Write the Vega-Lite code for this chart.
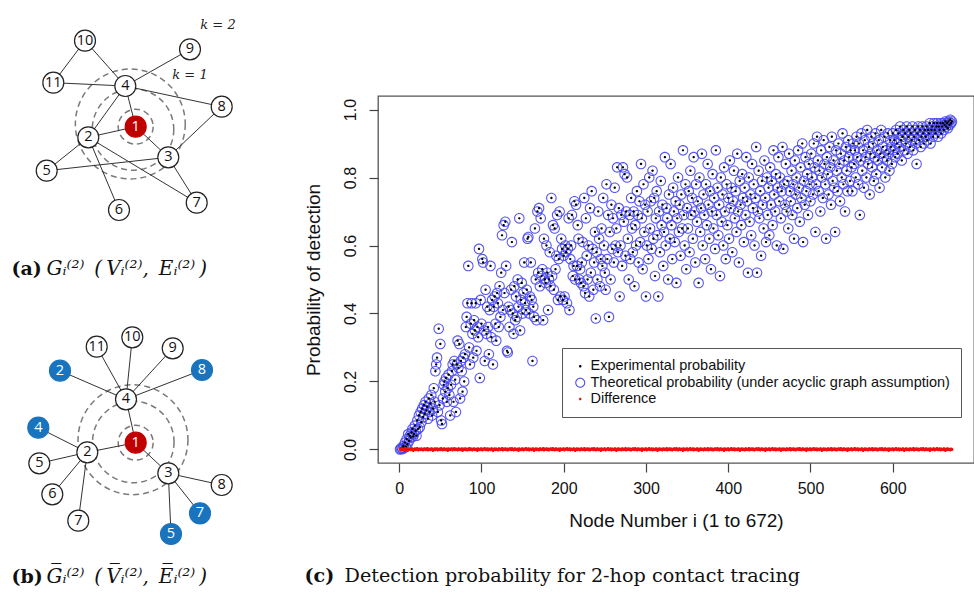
{
"$schema":"https://vega.github.io/schema/vega-lite/v6.json",
"padding":0,
"background":"white",
"config":{"view":{"stroke":null},"font":"Liberation Sans"},
"datasets":{
"nodesA":[{"id":"1","l":"1","t":"s","x":0,"y":0},{"id":"2","l":"2","t":"n","x":-47.4,"y":-10.6},{"id":"3","l":"3","t":"n","x":32.6,"y":-30.6},{"id":"4","l":"4","t":"n","x":-10.4,"y":40.7},{"id":"5","l":"5","t":"n","x":-89,"y":-44},{"id":"6","l":"6","t":"n","x":-16.7,"y":-83.3},{"id":"7","l":"7","t":"n","x":61,"y":-76},{"id":"8","l":"8","t":"n","x":86,"y":20},{"id":"9","l":"9","t":"n","x":54.3,"y":77.4},{"id":"10","l":"10","t":"n","x":-50.7,"y":86},{"id":"11","l":"11","t":"n","x":-82.4,"y":44}],
"edgesA":[{"s":"10","e":"11"},{"s":"10","e":"4"},{"s":"11","e":"4"},{"s":"9","e":"4"},{"s":"4","e":"8"},{"s":"4","e":"1"},{"s":"4","e":"2"},{"s":"2","e":"1"},{"s":"2","e":"5"},{"s":"2","e":"6"},{"s":"2","e":"7"},{"s":"1","e":"3"},{"s":"3","e":"8"},{"s":"3","e":"5"},{"s":"3","e":"7"}],
"ringsA":[{"k":2,"x":-5.4,"y":2.7},{"k":1,"x":-2.7,"y":-2.8},{"k":0,"x":0,"y":0}],
"kLabels":[{"txt":"k = 2","x":82.3,"y":101.7},{"txt":"k = 1","x":54.3,"y":51.7}],
"nodesB":[{"id":"1","l":"1","t":"s","x":0,"y":0},{"id":"2","l":"2","t":"n","x":-48.4,"y":-9.6},{"id":"3","l":"3","t":"n","x":32.6,"y":-30.6},{"id":"4","l":"4","t":"n","x":-9.7,"y":43.4},{"id":"11","l":"11","t":"n","x":-39,"y":96},{"id":"10","l":"10","t":"n","x":-3.4,"y":105.4},{"id":"9","l":"9","t":"n","x":37,"y":94.4},{"id":"2b","l":"2","t":"f","x":-75.7,"y":72},{"id":"8b","l":"8","t":"f","x":66.3,"y":72.7},{"id":"4b","l":"4","t":"f","x":-97.4,"y":15},{"id":"5","l":"5","t":"n","x":-96.4,"y":-20.6},{"id":"6","l":"6","t":"n","x":-83.4,"y":-51.6},{"id":"7","l":"7","t":"n","x":-57.4,"y":-78},{"id":"8","l":"8","t":"n","x":86,"y":-42.3},{"id":"7b","l":"7","t":"f","x":64.3,"y":-70.6},{"id":"5b","l":"5","t":"f","x":35.3,"y":-91.3}],
"edgesB":[{"s":"4","e":"11"},{"s":"4","e":"10"},{"s":"4","e":"9"},{"s":"4","e":"2b"},{"s":"4","e":"8b"},{"s":"4","e":"1"},{"s":"1","e":"2"},{"s":"2","e":"4b"},{"s":"2","e":"5"},{"s":"2","e":"6"},{"s":"2","e":"7"},{"s":"1","e":"3"},{"s":"3","e":"8"},{"s":"3","e":"7b"},{"s":"3","e":"5b"}],
"ringsB":[{"k":2,"x":-2.7,"y":3},{"k":1,"x":-2.4,"y":0.7},{"k":0,"x":0,"y":0}],
"probs":[
{"i":1,"p":0.000,"d":0.001},{"i":2,"p":0.002,"d":-0.001},{"i":3,"p":0.005,"d":0.002},{"i":4,"p":0.001,"d":0},{"i":5,"p":0.010,"d":-0.002},{"i":6,"p":0.004,"d":0.001},{"i":7,"p":0.020,"d":0.003},{"i":8,"p":0.008,"d":-0.001},{"i":9,"p":0.030,"d":0},{"i":10,"p":0.015,"d":0.002},
{"i":11,"p":0.045,"d":-0.002},{"i":12,"p":0.025,"d":0.001},{"i":13,"p":0.040,"d":0},{"i":14,"p":0.035,"d":-0.001},{"i":15,"p":0.050,"d":0.002},{"i":16,"p":0.060,"d":0.001},{"i":17,"p":0.038,"d":-0.003},{"i":18,"p":0.045,"d":0},{"i":19,"p":0.070,"d":0.002},{"i":20,"p":0.055,"d":-0.001},
{"i":21,"p":0.040,"d":0.001},{"i":22,"p":0.085,"d":0.003},{"i":23,"p":0.060,"d":-0.002},{"i":24,"p":0.100,"d":0},{"i":25,"p":0.065,"d":0.001},{"i":26,"p":0.110,"d":-0.001},{"i":27,"p":0.080,"d":0.002},{"i":28,"p":0.120,"d":0},{"i":29,"p":0.095,"d":-0.002},{"i":30,"p":0.130,"d":0.001},
{"i":31,"p":0.105,"d":0.002},{"i":32,"p":0.140,"d":-0.001},{"i":33,"p":0.115,"d":0},{"i":34,"p":0.125,"d":0.003},{"i":35,"p":0.090,"d":-0.002},{"i":36,"p":0.150,"d":0.001},{"i":37,"p":0.110,"d":0},{"i":38,"p":0.135,"d":-0.001},{"i":39,"p":0.160,"d":0.002},{"i":40,"p":0.100,"d":0.001},
{"i":41,"p":0.120,"d":-0.003},{"i":42,"p":0.180,"d":0},{"i":43,"p":0.140,"d":0.002},{"i":44,"p":0.230,"d":-0.001},{"i":45,"p":0.250,"d":0.001},{"i":46,"p":0.270,"d":0.002},{"i":47,"p":0.110,"d":-0.002},{"i":48,"p":0.355,"d":0},{"i":49,"p":0.130,"d":0.001},{"i":50,"p":0.310,"d":-0.001},
{"i":51,"p":0.085,"d":0.003},{"i":52,"p":0.075,"d":0},{"i":53,"p":0.150,"d":-0.002},{"i":54,"p":0.190,"d":0.001},{"i":55,"p":0.200,"d":0.002},{"i":56,"p":0.170,"d":-0.001},{"i":57,"p":0.210,"d":0},{"i":58,"p":0.140,"d":0.001},{"i":59,"p":0.180,"d":-0.003},{"i":60,"p":0.220,"d":0.002},
{"i":61,"p":0.160,"d":0},{"i":62,"p":0.100,"d":-0.001},{"i":63,"p":0.190,"d":0.001},{"i":64,"p":0.230,"d":0.002},{"i":65,"p":0.250,"d":-0.002},{"i":66,"p":0.140,"d":0},{"i":67,"p":0.260,"d":0.003},{"i":68,"p":0.205,"d":-0.001},{"i":69,"p":0.110,"d":0.001},{"i":70,"p":0.250,"d":0},
{"i":71,"p":0.320,"d":-0.002},{"i":72,"p":0.240,"d":0.002},{"i":73,"p":0.310,"d":0.001},{"i":74,"p":0.150,"d":-0.001},{"i":75,"p":0.260,"d":0},{"i":76,"p":0.230,"d":0.002},{"i":77,"p":0.170,"d":-0.003},{"i":78,"p":0.270,"d":0.001},{"i":79,"p":0.200,"d":0},{"i":80,"p":0.280,"d":0.002},
{"i":81,"p":0.360,"d":-0.001},{"i":82,"p":0.390,"d":0.001},{"i":83,"p":0.430,"d":-0.002},{"i":84,"p":0.540,"d":0},{"i":85,"p":0.300,"d":0.003},{"i":86,"p":0.250,"d":-0.001},{"i":87,"p":0.370,"d":0.002},{"i":88,"p":0.430,"d":0},{"i":89,"p":0.340,"d":-0.002},{"i":90,"p":0.270,"d":0.001},
{"i":91,"p":0.380,"d":0.002},{"i":92,"p":0.350,"d":-0.001},{"i":93,"p":0.430,"d":0},{"i":94,"p":0.290,"d":0.001},{"i":95,"p":0.360,"d":-0.003},{"i":96,"p":0.330,"d":0.002},{"i":97,"p":0.590,"d":0},{"i":98,"p":0.210,"d":-0.001},{"i":99,"p":0.440,"d":0.001},{"i":100,"p":0.370,"d":0.002},
{"i":101,"p":0.560,"d":-0.002},{"i":102,"p":0.550,"d":0},{"i":103,"p":0.350,"d":0.001},{"i":104,"p":0.260,"d":0.003},{"i":105,"p":0.470,"d":-0.001},{"i":106,"p":0.340,"d":0},{"i":107,"p":0.420,"d":0.002},{"i":108,"p":0.360,"d":-0.002},{"i":109,"p":0.280,"d":0.001},{"i":110,"p":0.410,"d":0},
{"i":111,"p":0.540,"d":-0.001},{"i":112,"p":0.330,"d":0.002},{"i":113,"p":0.440,"d":0.001},{"i":114,"p":0.250,"d":-0.003},{"i":115,"p":0.420,"d":0},{"i":116,"p":0.450,"d":0.002},{"i":117,"p":0.370,"d":-0.001},{"i":118,"p":0.320,"d":0.001},{"i":119,"p":0.460,"d":0},{"i":120,"p":0.430,"d":-0.002},
{"i":121,"p":0.360,"d":0.002},{"i":122,"p":0.480,"d":0.001},{"i":123,"p":0.390,"d":-0.001},{"i":124,"p":0.520,"d":0},{"i":125,"p":0.630,"d":0.003},{"i":126,"p":0.410,"d":-0.002},{"i":127,"p":0.660,"d":0.001},{"i":128,"p":0.460,"d":0},{"i":129,"p":0.670,"d":0.002},{"i":130,"p":0.540,"d":-0.001},
{"i":131,"p":0.290,"d":0.001},{"i":132,"p":0.285,"d":-0.002},{"i":133,"p":0.420,"d":0},{"i":134,"p":0.360,"d":0.002},{"i":135,"p":0.410,"d":0.001},{"i":136,"p":0.470,"d":-0.001},{"i":137,"p":0.610,"d":0.003},{"i":138,"p":0.400,"d":0},{"i":139,"p":0.340,"d":-0.002},{"i":140,"p":0.480,"d":0.001},
{"i":141,"p":0.380,"d":0.002},{"i":142,"p":0.450,"d":-0.001},{"i":143,"p":0.390,"d":0},{"i":144,"p":0.500,"d":0.001},{"i":145,"p":0.420,"d":-0.003},{"i":146,"p":0.680,"d":0.002},{"i":147,"p":0.350,"d":0},{"i":148,"p":0.440,"d":-0.001},{"i":149,"p":0.490,"d":0.001},{"i":150,"p":0.400,"d":0.002},
{"i":151,"p":0.460,"d":-0.002},{"i":152,"p":0.550,"d":0},{"i":153,"p":0.430,"d":0.001},{"i":154,"p":0.410,"d":0.003},{"i":155,"p":0.470,"d":-0.001},{"i":156,"p":0.620,"d":0},{"i":157,"p":0.625,"d":0.002},{"i":158,"p":0.400,"d":-0.002},{"i":159,"p":0.450,"d":0.001},{"i":160,"p":0.550,"d":0},
{"i":161,"p":0.440,"d":-0.001},{"i":162,"p":0.260,"d":0.002},{"i":163,"p":0.420,"d":0.001},{"i":164,"p":0.390,"d":-0.003},{"i":165,"p":0.650,"d":0},{"i":166,"p":0.500,"d":0.002},{"i":167,"p":0.380,"d":-0.001},{"i":168,"p":0.700,"d":0.001},{"i":169,"p":0.520,"d":0},{"i":170,"p":0.710,"d":-0.002},
{"i":171,"p":0.480,"d":0.002},{"i":172,"p":0.680,"d":0.001},{"i":173,"p":0.510,"d":-0.001},{"i":174,"p":0.530,"d":0},{"i":175,"p":0.380,"d":0.003},{"i":176,"p":0.620,"d":-0.002},{"i":177,"p":0.500,"d":0.001},{"i":178,"p":0.490,"d":0},{"i":179,"p":0.600,"d":0.002},{"i":180,"p":0.520,"d":-0.001},
{"i":181,"p":0.410,"d":0.001},{"i":182,"p":0.500,"d":-0.002},{"i":183,"p":0.580,"d":0},{"i":184,"p":0.480,"d":0.002},{"i":185,"p":0.740,"d":0.001},{"i":186,"p":0.510,"d":-0.001},{"i":187,"p":0.660,"d":0.003},{"i":188,"p":0.470,"d":0},{"i":189,"p":0.650,"d":-0.002},{"i":190,"p":0.530,"d":0.001},
{"i":191,"p":0.570,"d":0.002},{"i":192,"p":0.690,"d":-0.001},{"i":193,"p":0.440,"d":0},{"i":194,"p":0.560,"d":0.001},{"i":195,"p":0.700,"d":-0.003},{"i":196,"p":0.450,"d":0.002},{"i":197,"p":0.620,"d":0},{"i":198,"p":0.590,"d":-0.001},{"i":199,"p":0.440,"d":0.001},{"i":200,"p":0.570,"d":0.002},
{"i":201,"p":0.450,"d":-0.002},{"i":202,"p":0.600,"d":0},{"i":203,"p":0.580,"d":0.001},{"i":204,"p":0.430,"d":0.003},{"i":205,"p":0.590,"d":-0.001},{"i":206,"p":0.680,"d":0},{"i":207,"p":0.410,"d":0.002},{"i":208,"p":0.560,"d":-0.002},{"i":209,"p":0.600,"d":0.001},{"i":210,"p":0.690,"d":0},
{"i":211,"p":0.510,"d":-0.001},{"i":212,"p":0.540,"d":0.002},{"i":213,"p":0.730,"d":0.001},{"i":214,"p":0.500,"d":-0.003},{"i":215,"p":0.720,"d":0},{"i":216,"p":0.540,"d":0.002},{"i":217,"p":0.660,"d":-0.001},{"i":218,"p":0.620,"d":0.001},{"i":219,"p":0.500,"d":0},{"i":220,"p":0.530,"d":-0.002},
{"i":221,"p":0.490,"d":0.002},{"i":222,"p":0.550,"d":0.001},{"i":223,"p":0.610,"d":-0.001},{"i":224,"p":0.480,"d":0},{"i":225,"p":0.740,"d":0.003},{"i":226,"p":0.460,"d":-0.002},{"i":227,"p":0.680,"d":0.001},{"i":228,"p":0.570,"d":0},{"i":229,"p":0.500,"d":0.002},{"i":230,"p":0.600,"d":-0.001},
{"i":231,"p":0.450,"d":0.001},{"i":232,"p":0.710,"d":-0.002},{"i":233,"p":0.520,"d":0},{"i":234,"p":0.760,"d":0.002},{"i":235,"p":0.590,"d":0.001},{"i":236,"p":0.470,"d":-0.001},{"i":237,"p":0.550,"d":0.003},{"i":238,"p":0.640,"d":0},{"i":239,"p":0.385,"d":-0.002},{"i":240,"p":0.580,"d":0.001},
{"i":241,"p":0.500,"d":0.002},{"i":242,"p":0.700,"d":-0.001},{"i":243,"p":0.620,"d":0},{"i":244,"p":0.480,"d":0.001},{"i":245,"p":0.560,"d":-0.003},{"i":246,"p":0.650,"d":0.002},{"i":247,"p":0.540,"d":0},{"i":248,"p":0.740,"d":-0.001},{"i":249,"p":0.600,"d":0.001},{"i":250,"p":0.520,"d":0.002},
{"i":251,"p":0.470,"d":-0.002},{"i":252,"p":0.780,"d":0},{"i":253,"p":0.560,"d":0.001},{"i":254,"p":0.690,"d":0.003},{"i":255,"p":0.390,"d":-0.001},{"i":256,"p":0.640,"d":0},{"i":257,"p":0.500,"d":0.002},{"i":258,"p":0.720,"d":-0.002},{"i":259,"p":0.590,"d":0.001},{"i":260,"p":0.680,"d":0},
{"i":261,"p":0.550,"d":-0.001},{"i":262,"p":0.770,"d":0.002},{"i":263,"p":0.600,"d":0.001},{"i":264,"p":0.650,"d":-0.003},{"i":265,"p":0.830,"d":0},{"i":266,"p":0.580,"d":0.002},{"i":267,"p":0.710,"d":-0.001},{"i":268,"p":0.450,"d":0.001},{"i":269,"p":0.600,"d":0},{"i":270,"p":0.690,"d":-0.002},
{"i":271,"p":0.540,"d":0.002},{"i":272,"p":0.830,"d":0.001},{"i":273,"p":0.670,"d":-0.001},{"i":274,"p":0.810,"d":0},{"i":275,"p":0.570,"d":0.003},{"i":276,"p":0.700,"d":-0.002},{"i":277,"p":0.800,"d":0.001},{"i":278,"p":0.620,"d":0},{"i":279,"p":0.500,"d":0.002},{"i":280,"p":0.690,"d":-0.001},
{"i":281,"p":0.560,"d":0.001},{"i":282,"p":0.740,"d":-0.002},{"i":283,"p":0.650,"d":0},{"i":284,"p":0.580,"d":0.002},{"i":285,"p":0.700,"d":0.001},{"i":286,"p":0.480,"d":-0.001},{"i":287,"p":0.660,"d":0.003},{"i":288,"p":0.600,"d":0},{"i":289,"p":0.760,"d":-0.002},{"i":290,"p":0.690,"d":0.001},
{"i":291,"p":0.550,"d":0.002},{"i":292,"p":0.730,"d":-0.001},{"i":293,"p":0.610,"d":0},{"i":294,"p":0.840,"d":0.001},{"i":295,"p":0.680,"d":-0.003},{"i":296,"p":0.530,"d":0.002},{"i":297,"p":0.780,"d":0},{"i":298,"p":0.640,"d":-0.001},{"i":299,"p":0.720,"d":0.001},{"i":300,"p":0.450,"d":0.002},
{"i":301,"p":0.600,"d":-0.002},{"i":302,"p":0.700,"d":0},{"i":303,"p":0.560,"d":0.001},{"i":304,"p":0.800,"d":0.003},{"i":305,"p":0.650,"d":-0.001},{"i":306,"p":0.730,"d":0},{"i":307,"p":0.590,"d":0.002},{"i":308,"p":0.820,"d":-0.002},{"i":309,"p":0.620,"d":0.001},{"i":310,"p":0.740,"d":0},
{"i":311,"p":0.510,"d":-0.001},{"i":312,"p":0.680,"d":0.002},{"i":313,"p":0.760,"d":0.001},{"i":314,"p":0.630,"d":-0.003},{"i":315,"p":0.450,"d":0},{"i":316,"p":0.700,"d":0.002},{"i":317,"p":0.580,"d":-0.001},{"i":318,"p":0.790,"d":0.001},{"i":319,"p":0.660,"d":0},{"i":320,"p":0.720,"d":-0.002},
{"i":321,"p":0.540,"d":0.002},{"i":322,"p":0.640,"d":0.001},{"i":323,"p":0.860,"d":-0.001},{"i":324,"p":0.600,"d":0},{"i":325,"p":0.710,"d":0.003},{"i":326,"p":0.680,"d":-0.002},{"i":327,"p":0.500,"d":0.001},{"i":328,"p":0.750,"d":0},{"i":329,"p":0.620,"d":0.002},{"i":330,"p":0.840,"d":-0.001},
{"i":331,"p":0.660,"d":0.001},{"i":332,"p":0.560,"d":-0.002},{"i":333,"p":0.770,"d":0},{"i":334,"p":0.700,"d":0.002},{"i":335,"p":0.610,"d":0.001},{"i":336,"p":0.730,"d":-0.001},{"i":337,"p":0.490,"d":0.003},{"i":338,"p":0.680,"d":0},{"i":339,"p":0.800,"d":-0.002},{"i":340,"p":0.640,"d":0.001},
{"i":341,"p":0.720,"d":0.002},{"i":342,"p":0.570,"d":-0.001},{"i":343,"p":0.750,"d":0},{"i":344,"p":0.650,"d":0.001},{"i":345,"p":0.880,"d":-0.003},{"i":346,"p":0.690,"d":0.002},{"i":347,"p":0.600,"d":0},{"i":348,"p":0.780,"d":-0.001},{"i":349,"p":0.530,"d":0.001},{"i":350,"p":0.710,"d":0.002},
{"i":351,"p":0.650,"d":-0.002},{"i":352,"p":0.760,"d":0},{"i":353,"p":0.580,"d":0.001},{"i":354,"p":0.820,"d":0.003},{"i":355,"p":0.690,"d":-0.001},{"i":356,"p":0.740,"d":0},{"i":357,"p":0.620,"d":0.002},{"i":358,"p":0.860,"d":-0.002},{"i":359,"p":0.700,"d":0.001},{"i":360,"p":0.550,"d":0},
{"i":361,"p":0.780,"d":-0.001},{"i":362,"p":0.670,"d":0.002},{"i":363,"p":0.730,"d":0.001},{"i":364,"p":0.490,"d":-0.003},{"i":365,"p":0.800,"d":0},{"i":366,"p":0.640,"d":0.002},{"i":367,"p":0.710,"d":-0.001},{"i":368,"p":0.870,"d":0.001},{"i":369,"p":0.600,"d":0},{"i":370,"p":0.750,"d":-0.002},
{"i":371,"p":0.690,"d":0.002},{"i":372,"p":0.560,"d":0.001},{"i":373,"p":0.780,"d":-0.001},{"i":374,"p":0.660,"d":0},{"i":375,"p":0.840,"d":0.003},{"i":376,"p":0.720,"d":-0.002},{"i":377,"p":0.620,"d":0.001},{"i":378,"p":0.760,"d":0},{"i":379,"p":0.530,"d":0.002},{"i":380,"p":0.700,"d":-0.001},
{"i":381,"p":0.810,"d":0.001},{"i":382,"p":0.650,"d":-0.002},{"i":383,"p":0.740,"d":0},{"i":384,"p":0.590,"d":0.002},{"i":385,"p":0.880,"d":0.001},{"i":386,"p":0.690,"d":-0.001},{"i":387,"p":0.770,"d":0.003},{"i":388,"p":0.630,"d":0},{"i":389,"p":0.720,"d":-0.002},{"i":390,"p":0.510,"d":0.001},
{"i":391,"p":0.800,"d":0.002},{"i":392,"p":0.670,"d":-0.001},{"i":393,"p":0.750,"d":0},{"i":394,"p":0.600,"d":0.001},{"i":395,"p":0.830,"d":-0.003},{"i":396,"p":0.700,"d":0.002},{"i":397,"p":0.560,"d":0},{"i":398,"p":0.780,"d":-0.001},{"i":399,"p":0.660,"d":0.001},{"i":400,"p":0.740,"d":0.002},
{"i":401,"p":0.620,"d":-0.002},{"i":402,"p":0.850,"d":0},{"i":403,"p":0.710,"d":0.001},{"i":404,"p":0.770,"d":0.003},{"i":405,"p":0.580,"d":-0.001},{"i":406,"p":0.730,"d":0},{"i":407,"p":0.820,"d":0.002},{"i":408,"p":0.680,"d":-0.002},{"i":409,"p":0.760,"d":0.001},{"i":410,"p":0.640,"d":0},
{"i":411,"p":0.870,"d":-0.001},{"i":412,"p":0.700,"d":0.002},{"i":413,"p":0.550,"d":0.001},{"i":414,"p":0.790,"d":-0.003},{"i":415,"p":0.720,"d":0},{"i":416,"p":0.660,"d":0.002},{"i":417,"p":0.810,"d":-0.001},{"i":418,"p":0.740,"d":0.001},{"i":419,"p":0.610,"d":0},{"i":420,"p":0.770,"d":-0.002},
{"i":421,"p":0.690,"d":0.002},{"i":422,"p":0.860,"d":0.001},{"i":423,"p":0.730,"d":-0.001},{"i":424,"p":0.520,"d":0},{"i":425,"p":0.800,"d":0.003},{"i":426,"p":0.670,"d":-0.002},{"i":427,"p":0.750,"d":0.001},{"i":428,"p":0.630,"d":0},{"i":429,"p":0.840,"d":0.002},{"i":430,"p":0.710,"d":-0.001},
{"i":431,"p":0.780,"d":0.001},{"i":432,"p":0.600,"d":-0.002},{"i":433,"p":0.740,"d":0},{"i":434,"p":0.890,"d":0.002},{"i":435,"p":0.520,"d":0.001},{"i":436,"p":0.700,"d":-0.001},{"i":437,"p":0.820,"d":0.003},{"i":438,"p":0.680,"d":0},{"i":439,"p":0.760,"d":-0.002},{"i":440,"p":0.570,"d":0.001},
{"i":441,"p":0.790,"d":0.002},{"i":442,"p":0.720,"d":-0.001},{"i":443,"p":0.650,"d":0},{"i":444,"p":0.850,"d":0.001},{"i":445,"p":0.740,"d":-0.003},{"i":446,"p":0.610,"d":0.002},{"i":447,"p":0.800,"d":0},{"i":448,"p":0.690,"d":-0.001},{"i":449,"p":0.770,"d":0.001},{"i":450,"p":0.630,"d":0.002},
{"i":451,"p":0.830,"d":-0.002},{"i":452,"p":0.720,"d":0},{"i":453,"p":0.790,"d":0.001},{"i":454,"p":0.660,"d":0.003},{"i":455,"p":0.880,"d":-0.001},{"i":456,"p":0.750,"d":0},{"i":457,"p":0.700,"d":0.002},{"i":458,"p":0.810,"d":-0.002},{"i":459,"p":0.600,"d":0.001},{"i":460,"p":0.770,"d":0},
{"i":461,"p":0.860,"d":-0.001},{"i":462,"p":0.730,"d":0.002},{"i":463,"p":0.800,"d":0.001},{"i":464,"p":0.680,"d":-0.003},{"i":465,"p":0.760,"d":0},{"i":466,"p":0.890,"d":0.002},{"i":467,"p":0.590,"d":-0.001},{"i":468,"p":0.780,"d":0.001},{"i":469,"p":0.720,"d":0},{"i":470,"p":0.840,"d":-0.002},
{"i":471,"p":0.700,"d":0.002},{"i":472,"p":0.790,"d":0.001},{"i":473,"p":0.650,"d":-0.001},{"i":474,"p":0.870,"d":0},{"i":475,"p":0.760,"d":0.003},{"i":476,"p":0.730,"d":-0.002},{"i":477,"p":0.820,"d":0.001},{"i":478,"p":0.690,"d":0},{"i":479,"p":0.780,"d":0.002},{"i":480,"p":0.620,"d":-0.001},
{"i":481,"p":0.850,"d":0.001},{"i":482,"p":0.750,"d":-0.002},{"i":483,"p":0.800,"d":0},{"i":484,"p":0.710,"d":0.002},{"i":485,"p":0.880,"d":0.001},{"i":486,"p":0.770,"d":-0.001},{"i":487,"p":0.670,"d":0.003},{"i":488,"p":0.830,"d":0},{"i":489,"p":0.740,"d":-0.002},{"i":490,"p":0.900,"d":0.001},
{"i":491,"p":0.610,"d":0.002},{"i":492,"p":0.790,"d":-0.001},{"i":493,"p":0.720,"d":0},{"i":494,"p":0.860,"d":0.001},{"i":495,"p":0.760,"d":-0.003},{"i":496,"p":0.810,"d":0.002},{"i":497,"p":0.690,"d":0},{"i":498,"p":0.840,"d":-0.001},{"i":499,"p":0.780,"d":0.001},{"i":500,"p":0.730,"d":0.002},
{"i":501,"p":0.870,"d":-0.002},{"i":502,"p":0.800,"d":0},{"i":503,"p":0.750,"d":0.001},{"i":504,"p":0.900,"d":0.003},{"i":505,"p":0.830,"d":-0.001},{"i":506,"p":0.640,"d":0},{"i":507,"p":0.780,"d":0.002},{"i":508,"p":0.920,"d":-0.002},{"i":509,"p":0.850,"d":0.001},{"i":510,"p":0.760,"d":0},
{"i":511,"p":0.820,"d":-0.001},{"i":512,"p":0.700,"d":0.002},{"i":513,"p":0.880,"d":0.001},{"i":514,"p":0.800,"d":-0.003},{"i":515,"p":0.740,"d":0},{"i":516,"p":0.910,"d":0.002},{"i":517,"p":0.840,"d":-0.001},{"i":518,"p":0.780,"d":0.001},{"i":519,"p":0.620,"d":0},{"i":520,"p":0.860,"d":-0.002},
{"i":521,"p":0.810,"d":0.002},{"i":522,"p":0.750,"d":0.001},{"i":523,"p":0.890,"d":-0.001},{"i":524,"p":0.830,"d":0},{"i":525,"p":0.720,"d":0.003},{"i":526,"p":0.920,"d":-0.002},{"i":527,"p":0.790,"d":0.001},{"i":528,"p":0.850,"d":0},{"i":529,"p":0.770,"d":0.002},{"i":530,"p":0.640,"d":-0.001},
{"i":531,"p":0.880,"d":0.001},{"i":532,"p":0.820,"d":-0.002},{"i":533,"p":0.760,"d":0},{"i":534,"p":0.900,"d":0.002},{"i":535,"p":0.840,"d":0.001},{"i":536,"p":0.730,"d":-0.001},{"i":537,"p":0.870,"d":0.003},{"i":538,"p":0.800,"d":0},{"i":539,"p":0.930,"d":-0.002},{"i":540,"p":0.780,"d":0.001},
{"i":541,"p":0.850,"d":0.002},{"i":542,"p":0.700,"d":-0.001},{"i":543,"p":0.890,"d":0},{"i":544,"p":0.820,"d":0.001},{"i":545,"p":0.760,"d":-0.003},{"i":546,"p":0.910,"d":0.002},{"i":547,"p":0.860,"d":0},{"i":548,"p":0.790,"d":-0.001},{"i":549,"p":0.880,"d":0.001},{"i":550,"p":0.830,"d":0.002},
{"i":551,"p":0.760,"d":-0.002},{"i":552,"p":0.900,"d":0},{"i":553,"p":0.840,"d":0.001},{"i":554,"p":0.880,"d":0.003},{"i":555,"p":0.800,"d":-0.001},{"i":556,"p":0.920,"d":0},{"i":557,"p":0.860,"d":0.002},{"i":558,"p":0.780,"d":-0.002},{"i":559,"p":0.900,"d":0.001},{"i":560,"p":0.690,"d":0},
{"i":561,"p":0.850,"d":-0.001},{"i":562,"p":0.930,"d":0.002},{"i":563,"p":0.820,"d":0.001},{"i":564,"p":0.880,"d":-0.003},{"i":565,"p":0.770,"d":0},{"i":566,"p":0.910,"d":0.002},{"i":567,"p":0.860,"d":-0.001},{"i":568,"p":0.800,"d":0.001},{"i":569,"p":0.940,"d":0},{"i":570,"p":0.840,"d":-0.002},
{"i":571,"p":0.890,"d":0.002},{"i":572,"p":0.750,"d":0.001},{"i":573,"p":0.870,"d":-0.001},{"i":574,"p":0.920,"d":0},{"i":575,"p":0.830,"d":0.003},{"i":576,"p":0.900,"d":-0.002},{"i":577,"p":0.790,"d":0.001},{"i":578,"p":0.860,"d":0},{"i":579,"p":0.930,"d":0.002},{"i":580,"p":0.810,"d":-0.001},
{"i":581,"p":0.880,"d":0.001},{"i":582,"p":0.850,"d":-0.002},{"i":583,"p":0.910,"d":0},{"i":584,"p":0.770,"d":0.002},{"i":585,"p":0.870,"d":0.001},{"i":586,"p":0.940,"d":-0.001},{"i":587,"p":0.830,"d":0.003},{"i":588,"p":0.890,"d":0},{"i":589,"p":0.860,"d":-0.002},{"i":590,"p":0.920,"d":0.001},
{"i":591,"p":0.800,"d":0.002},{"i":592,"p":0.880,"d":-0.001},{"i":593,"p":0.850,"d":0},{"i":594,"p":0.930,"d":0.001},{"i":595,"p":0.870,"d":-0.003},{"i":596,"p":0.820,"d":0.002},{"i":597,"p":0.910,"d":0},{"i":598,"p":0.890,"d":-0.001},{"i":599,"p":0.840,"d":0.001},{"i":600,"p":0.930,"d":0.002},
{"i":601,"p":0.880,"d":-0.002},{"i":602,"p":0.910,"d":0},{"i":603,"p":0.860,"d":0.001},{"i":604,"p":0.940,"d":0.003},{"i":605,"p":0.900,"d":-0.001},{"i":606,"p":0.870,"d":0},{"i":607,"p":0.930,"d":0.002},{"i":608,"p":0.890,"d":-0.002},{"i":609,"p":0.950,"d":0.001},{"i":610,"p":0.910,"d":0},
{"i":611,"p":0.850,"d":-0.001},{"i":612,"p":0.920,"d":0.002},{"i":613,"p":0.940,"d":0.001},{"i":614,"p":0.880,"d":-0.003},{"i":615,"p":0.930,"d":0},{"i":616,"p":0.900,"d":0.002},{"i":617,"p":0.950,"d":-0.001},{"i":618,"p":0.870,"d":0.001},{"i":619,"p":0.920,"d":0},{"i":620,"p":0.940,"d":-0.002},
{"i":621,"p":0.890,"d":0.002},{"i":622,"p":0.930,"d":0.001},{"i":623,"p":0.910,"d":-0.001},{"i":624,"p":0.950,"d":0},{"i":625,"p":0.880,"d":0.003},{"i":626,"p":0.920,"d":-0.002},{"i":627,"p":0.940,"d":0.001},{"i":628,"p":0.900,"d":0},{"i":629,"p":0.840,"d":0.002},{"i":630,"p":0.930,"d":-0.001},
{"i":631,"p":0.950,"d":0.001},{"i":632,"p":0.910,"d":-0.002},{"i":633,"p":0.940,"d":0},{"i":634,"p":0.890,"d":0.002},{"i":635,"p":0.920,"d":0.001},{"i":636,"p":0.950,"d":-0.001},{"i":637,"p":0.930,"d":0.003},{"i":638,"p":0.900,"d":0},{"i":639,"p":0.940,"d":-0.002},{"i":640,"p":0.920,"d":0.001},
{"i":641,"p":0.950,"d":0.002},{"i":642,"p":0.910,"d":-0.001},{"i":643,"p":0.940,"d":0},{"i":644,"p":0.930,"d":0.001},{"i":645,"p":0.960,"d":-0.003},{"i":646,"p":0.900,"d":0.002},{"i":647,"p":0.940,"d":0},{"i":648,"p":0.950,"d":-0.001},{"i":649,"p":0.920,"d":0.001},{"i":650,"p":0.960,"d":0.002},
{"i":651,"p":0.940,"d":-0.002},{"i":652,"p":0.930,"d":0},{"i":653,"p":0.950,"d":0.001},{"i":654,"p":0.960,"d":0.003},{"i":655,"p":0.920,"d":-0.001},{"i":656,"p":0.950,"d":0},{"i":657,"p":0.940,"d":0.002},{"i":658,"p":0.960,"d":-0.002},{"i":659,"p":0.930,"d":0.001},{"i":660,"p":0.950,"d":0},
{"i":661,"p":0.960,"d":-0.001},{"i":662,"p":0.940,"d":0.002},{"i":663,"p":0.955,"d":0.001},{"i":664,"p":0.965,"d":-0.003},{"i":665,"p":0.950,"d":0},{"i":666,"p":0.960,"d":0.002},{"i":667,"p":0.945,"d":-0.001},{"i":668,"p":0.965,"d":0.001},{"i":669,"p":0.955,"d":0},{"i":670,"p":0.970,"d":-0.002},
{"i":671,"p":0.960,"d":0.001},{"i":672,"p":0.965,"d":0}
]
},
"spacing":43,
"hconcat":[
{
"vconcat":[
{
"width":260,"height":250,
"layer":[
{
"data":{"name":"ringsA"},
"mark":{"type":"point","shape":"circle","filled":false,"stroke":"#7a7a7a","strokeWidth":1.5,"strokeDash":[6,4],"opacity":1},
"encoding":{
"x":{"field":"x","type":"quantitative","scale":{"domain":[-135.7,124.3],"nice":false,"zero":false},"axis":{"title":"(a)","labels":false,"ticks":false,"domain":false,"grid":false,"titleX":11,"titleY":24,"titleAlign":"left","titleBaseline":"alphabetic","titleFont":"DejaVu Serif","titleFontSize":19,"titleFontWeight":"bold","titleColor":"#111"}},
"y":{"field":"y","type":"quantitative","scale":{"domain":[-123.3,126.7],"nice":false,"zero":false},"axis":{"title":"Gᵢ⁽²⁾\u2002(\u2009Vᵢ⁽²⁾,\u2002Eᵢ⁽²⁾\u2009)","labels":false,"ticks":false,"domain":false,"grid":false,"titleAngle":0,"titleX":46,"titleY":274,"titleAlign":"left","titleBaseline":"alphabetic","titleFont":"DejaVu Serif","titleFontSize":20,"titleFontStyle":"italic","titleFontWeight":"normal","titleColor":"#111"}},
"size":{"field":"k","type":"ordinal","scale":{"domain":[0,1,2],"range":[1219,12076,42800]},"legend":null}
}
},
{
"data":{"name":"edgesA"},
"transform":[{"lookup":"s","from":{"data":{"name":"nodesA"},"key":"id","fields":["x","y"]},"as":["xa","ya"]},{"lookup":"e","from":{"data":{"name":"nodesA"},"key":"id","fields":["x","y"]},"as":["xb","yb"]}],
"mark":{"type":"rule","color":"#333","strokeWidth":1},
"encoding":{"x":{"field":"xa","type":"quantitative"},"y":{"field":"ya","type":"quantitative"},"x2":{"field":"xb"},"y2":{"field":"yb"}}
},
{
"data":{"name":"nodesA"},
"mark":{"type":"point","shape":"circle","filled":true,"size":440,"strokeWidth":1.2,"opacity":1},
"encoding":{
"x":{"field":"x","type":"quantitative"},
"y":{"field":"y","type":"quantitative"},
"fill":{"field":"t","type":"nominal","scale":{"domain":["n","s","f"],"range":["#ffffff","#c00000","#1a73bd"]},"legend":null},
"stroke":{"field":"t","type":"nominal","scale":{"domain":["n","s","f"],"range":["#222222","#c00000","#1a73bd"]},"legend":null}
}
},
{
"data":{"name":"nodesA"},
"mark":{"type":"text","font":"Open Sans","fontSize":14.5,"baseline":"middle","align":"center"},
"encoding":{
"x":{"field":"x","type":"quantitative"},
"y":{"field":"y","type":"quantitative"},
"text":{"field":"l"},
"color":{"condition":{"test":"datum.t !== 'n'","value":"white"},"value":"#111"}
}
},
{
"data":{"name":"kLabels"},
"mark":{"type":"text","font":"DejaVu Serif","fontSize":13,"fontStyle":"italic","baseline":"middle","align":"center","color":"#222"},
"encoding":{
"x":{"field":"x","type":"quantitative"},
"y":{"field":"y","type":"quantitative"},
"text":{"field":"txt"}
}
}
]
},
{
"width":260,"height":250,
"layer":[
{
"data":{"name":"ringsB"},
"mark":{"type":"point","shape":"circle","filled":false,"stroke":"#7a7a7a","strokeWidth":1.5,"strokeDash":[6,4],"opacity":1},
"encoding":{
"x":{"field":"x","type":"quantitative","scale":{"domain":[-135.7,124.3],"nice":false,"zero":false},"axis":{"title":"(b)","labels":false,"ticks":false,"domain":false,"grid":false,"titleX":11,"titleY":22,"titleAlign":"left","titleBaseline":"alphabetic","titleFont":"DejaVu Serif","titleFontSize":19,"titleFontWeight":"bold","titleColor":"#111"}},
"y":{"field":"y","type":"quantitative","scale":{"domain":[-117.3,132.7],"nice":false,"zero":false},"axis":{"title":"G̅ᵢ⁽²⁾\u2002(\u2009V̅ᵢ⁽²⁾,\u2002E̅ᵢ⁽²⁾\u2009)","labels":false,"ticks":false,"domain":false,"grid":false,"titleAngle":0,"titleX":46,"titleY":272,"titleAlign":"left","titleBaseline":"alphabetic","titleFont":"DejaVu Serif","titleFontSize":20,"titleFontStyle":"italic","titleFontWeight":"normal","titleColor":"#111"}},
"size":{"field":"k","type":"ordinal","scale":{"domain":[0,1,2],"range":[1219,12076,42800]},"legend":null}
}
},
{
"data":{"name":"edgesB"},
"transform":[{"lookup":"s","from":{"data":{"name":"nodesB"},"key":"id","fields":["x","y"]},"as":["xa","ya"]},{"lookup":"e","from":{"data":{"name":"nodesB"},"key":"id","fields":["x","y"]},"as":["xb","yb"]}],
"mark":{"type":"rule","color":"#333","strokeWidth":1},
"encoding":{"x":{"field":"xa","type":"quantitative"},"y":{"field":"ya","type":"quantitative"},"x2":{"field":"xb"},"y2":{"field":"yb"}}
},
{
"data":{"name":"nodesB"},
"mark":{"type":"point","shape":"circle","filled":true,"size":440,"strokeWidth":1.2,"opacity":1},
"encoding":{
"x":{"field":"x","type":"quantitative"},
"y":{"field":"y","type":"quantitative"},
"fill":{"field":"t","type":"nominal","scale":{"domain":["n","s","f"],"range":["#ffffff","#c00000","#1a73bd"]},"legend":null},
"stroke":{"field":"t","type":"nominal","scale":{"domain":["n","s","f"],"range":["#222222","#c00000","#1a73bd"]},"legend":null}
}
},
{
"data":{"name":"nodesB"},
"mark":{"type":"text","font":"Open Sans","fontSize":14.5,"baseline":"middle","align":"center"},
"encoding":{
"x":{"field":"x","type":"quantitative"},
"y":{"field":"y","type":"quantitative"},
"text":{"field":"l"},
"color":{"condition":{"test":"datum.t !== 'n'","value":"white"},"value":"#111"}
}
}
]
}
],
"spacing":60,
"bounds":"flush",
"resolve":{"scale":{"x":"independent","y":"independent"}}
},
{
"vconcat":[
{
"width":596,"height":96,
"data":{"values":[{"s":""}]},
"mark":{"type":"text"},
"encoding":{"text":{"field":"s","type":"nominal"}}
},
{
"width":596,"height":367,
"view":{"stroke":"#555","strokeWidth":1.3},
"data":{"name":"probs"},
"resolve":{"axis":{"x":"independent","y":"independent"}},
"layer":[
{
"mark":{"type":"point","filled":true,"size":112,"strokeWidth":0,"opacity":0.9},
"encoding":{
"x":{"field":"i","type":"quantitative","scale":{"domain":[-25.8,698.8],"nice":false,"zero":false},"axis":{"orient":"bottom","values":[0,100,200,300,400,500,600],"title":"Node Number i (1 to 672)","titleFont":"Liberation Sans","titleFontSize":19,"titleFontWeight":"normal","titleColor":"#111","titlePadding":15,"labelFont":"Liberation Sans","labelFontSize":16,"labelColor":"#111","labelPadding":8,"tickSize":9,"tickColor":"#444","tickWidth":1.2,"domain":false,"grid":false}},
"y":{"field":"p","type":"quantitative","scale":{"domain":[-0.04,1.04],"nice":false,"zero":false},"axis":{"orient":"left","values":[0,0.2,0.4,0.6,0.8,1.0],"format":".1f","title":"Probability of detection","titleFont":"Liberation Sans","titleFontSize":19,"titleFontWeight":"normal","titleColor":"#111","titlePadding":19,"labelFont":"Liberation Sans","labelFontSize":16,"labelColor":"#111","labelAngle":270,"labelAlign":"center","labelBaseline":"alphabetic","labelPadding":13.5,"tickSize":9,"tickColor":"#444","tickWidth":1.2,"domain":false,"grid":false}},
"color":{
"datum":"Theoretical probability (under acyclic graph assumption)",
"type":"nominal",
"scale":{"domain":["Experimental probability","Theoretical probability (under acyclic graph assumption)","Difference"],"range":["#000000","#4646f2","#ee1111"]},
"legend":{"orient":"none","legendX":562,"legendY":348,"title":null,"strokeColor":"#555","fillColor":"white","padding":11,"labelFont":"Liberation Sans","labelFontSize":14.5,"labelColor":"#111","labelOffset":3,"labelLimit":0,"rowPadding":1.4,"symbolSize":100,"symbolOpacity":1,"symbolStrokeWidth":0}
},
"shape":{
"datum":"Theoretical probability (under acyclic graph assumption)",
"type":"nominal",
"scale":{"domain":["Experimental probability","Theoretical probability (under acyclic graph assumption)","Difference"],"range":["M0,-0.25A0.25,0.25,0,1,1,0,0.25A0.25,0.25,0,1,1,0,-0.25Z","M0,-1A1,1,0,1,1,0,1A1,1,0,1,1,0,-1ZM0,-0.8A0.8,0.8,0,1,0,0,0.8A0.8,0.8,0,1,0,0,-0.8Z","M0,-0.25A0.25,0.25,0,1,1,0,0.25A0.25,0.25,0,1,1,0,-0.25Z"]},
"legend":{"orient":"none","legendX":562,"legendY":348,"title":null,"strokeColor":"#555","fillColor":"white","padding":11,"labelFont":"Liberation Sans","labelFontSize":14.5,"labelColor":"#111","labelOffset":3,"labelLimit":0,"rowPadding":1.4,"symbolSize":100,"symbolOpacity":1,"symbolStrokeWidth":0}
}
}
},
{
"mark":{"type":"point","filled":true,"size":92,"strokeWidth":0,"opacity":1},
"encoding":{
"x":{"field":"i","type":"quantitative","axis":{"orient":"bottom","title":"Detection probability for 2-hop contact tracing","labels":false,"ticks":false,"domain":false,"grid":false,"titleX":-34,"titleY":118,"titleAlign":"left","titleBaseline":"alphabetic","titleFont":"DejaVu Serif","titleFontSize":19.2,"titleFontWeight":"normal","titleColor":"#111"}},
"y":{"field":"p","type":"quantitative","axis":null},
"color":{"datum":"Experimental probability","type":"nominal"},
"shape":{"datum":"Experimental probability","type":"nominal"}
}
},
{
"mark":{"type":"point","filled":true,"size":144,"strokeWidth":0,"opacity":1},
"encoding":{
"x":{"field":"i","type":"quantitative","axis":null},
"y":{"field":"d","type":"quantitative","axis":{"orient":"left","title":"(c)","labels":false,"ticks":false,"domain":false,"grid":false,"titleAngle":0,"titleX":-74,"titleY":485,"titleAlign":"left","titleBaseline":"alphabetic","titleFont":"DejaVu Serif","titleFontSize":19.2,"titleFontWeight":"bold","titleColor":"#111"}},
"color":{"datum":"Difference","type":"nominal"},
"shape":{"datum":"Difference","type":"nominal"}
}
}
]
}
],
"spacing":0,
"bounds":"flush"
}
]
}
